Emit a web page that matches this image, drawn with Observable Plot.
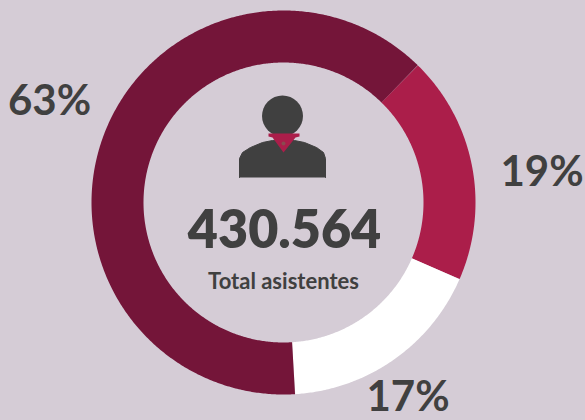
<!DOCTYPE html>
<html><head><meta charset="utf-8">
<script src="https://cdn.jsdelivr.net/npm/d3@7"></script>
<script src="https://cdn.jsdelivr.net/npm/@observablehq/plot@0.6"></script>
<style>html,body{margin:0;padding:0;background:#d5ccd6;overflow:hidden}svg{display:block}</style>
</head><body><div id="chart"></div>
<script>
const categories = ["b","c","a"];
const shares = [19.2, 17.5, 63.3];
const sliceColors = ["#ab1e4a", "#ffffff", "#741539"];
const pctLabels = ["19%", "17%", "63%"];
const pctX = [541.5, 407.5, 49];
const pctY = [172, 397, 101];
const totalLabel = "430.564";
const subLabel = "Total asistentes";
const startAngle = 44.4;
const cx = 283, cy = 202, ringR = 166, ringWidth = 52;

const total = d3.sum(shares);
let acc = startAngle;
const arcs = [];
shares.forEach((s, i) => {
  const a0 = acc, a1 = acc + s / total * 360;
  const n = Math.ceil((a1 - a0) * 2);
  for (let k = 0; k <= n; k++) {
    const t = (a0 + (a1 - a0) * k / n) * Math.PI / 180;
    arcs.push({cat: categories[i], x: cx + ringR * Math.sin(t), y: cy - ringR * Math.cos(t)});
  }
  acc = a1;
});

const bodyX = [239,239,242,250,262,272,283,294,304,316,323,325,325];
const bodyY = [177,158,152,147,142,140,139,140,142,147,152,158,177];
const body = bodyX.map((x,i)=>({x, y: bodyY[i]}));
const scarfX = [268,268,272,283,295,299,299];
const scarfY = [133,136,137,152,137,136,133];
const scarf = scarfX.map((x,i)=>({x, y: scarfY[i]}));

const font = "Lato, 'Noto Sans', sans-serif";
const chart = Plot.plot({
  width: 585, height: 420, margin: 0,
  style: {background: "#d5ccd6"},
  x: {domain: [0,585], range: [0,585], axis: null},
  y: {domain: [0,420], range: [0,420], axis: null},
  marks: [
    ...categories.map((c,i)=>Plot.line(arcs.filter(d=>d.cat===c), {
      x:"x", y:"y", stroke: sliceColors[i], strokeWidth: ringWidth,
      strokeLinecap:"butt", strokeLinejoin:"round"
    })),
    Plot.line(body,{x:"x",y:"y",fill:"#404040",stroke:"#404040",strokeWidth:1}),
    Plot.dot([{x:282,y:115.5}],{x:"x",y:"y",r:20.5,fill:"#404040"}),
    Plot.line(scarf,{x:"x",y:"y",fill:"#ab1e4a",stroke:"none"}),
    Plot.dot([{x:283,y:143}],{x:"x",y:"y",r:2,fill:"#8a4a50"}),
    Plot.text([totalLabel],{x:()=>284,y:()=>231,text:d=>d,fontFamily:font,fontWeight:800,fontSize:52,fill:"#404040"}),
    Plot.text([subLabel],{x:()=>283,y:()=>281,text:d=>d,fontFamily:font,fontWeight:700,fontSize:22,fill:"#404040"}),
    Plot.text(pctLabels,{x:(d,i)=>pctX[i],y:(d,i)=>pctY[i],text:d=>d,fontFamily:font,fontWeight:700,fontSize:42,fill:"#404040"})
  ]
});
document.getElementById("chart").append(chart);
</script></body></html>
